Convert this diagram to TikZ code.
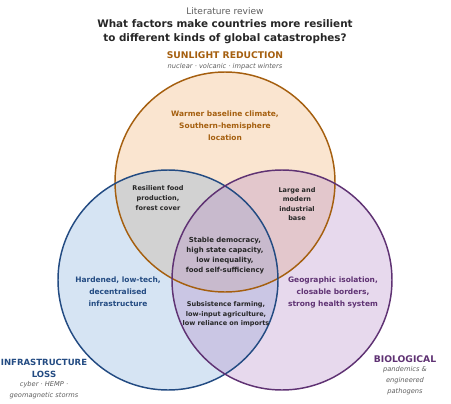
\documentclass[tikz,border=0pt]{standalone}
\usepackage{fontspec}
\setmainfont{DejaVu Sans}
\usepackage{tikz}
\usepackage{xcolor}
\usetikzlibrary{positioning}
\definecolor{sunline}{RGB}{165,95,15}
\definecolor{sunfill}{RGB}{238,170,100}
\definecolor{infraline}{RGB}{35,75,130}
\definecolor{infrafill}{RGB}{120,165,215}
\definecolor{bioline}{RGB}{95,50,115}
\definecolor{biofill}{RGB}{175,130,195}
\definecolor{subgray}{RGB}{95,95,95}
\tikzstyle{zone} = [circle, minimum size=165pt, inner sep=0pt, line width=1.1pt]
\tikzstyle{heading} = [font=\fontsize{7.8}{10.5}\selectfont\bfseries, text=black!85, align=center]
\tikzstyle{setname} = [font=\fontsize{6.9}{9.3}\selectfont\bfseries, align=center, inner sep=0pt]
\tikzstyle{setsub} = [font=\fontsize{5}{8.3}\selectfont\itshape, text=subgray, align=center, inner sep=0pt]
\tikzstyle{region} = [font=\fontsize{5.6}{9}\selectfont\bfseries, align=center, inner sep=0pt]
\tikzstyle{small} = [font=\fontsize{4.9}{7.2}\selectfont\bfseries, text=black!85, align=center, inner sep=0pt]

\begin{document}
\begin{tikzpicture}[x=0.75pt, y=-0.75pt]
    \useasboundingbox (0,0) rectangle (451,404);

            % Circles
            \node (sun) [zone, fill=sunfill, fill opacity=0.3] at (225,182) {};
            \node (infra) [zone, fill=infrafill, fill opacity=0.3] at (168,280) {};
            \node (bio) [zone, fill=biofill, fill opacity=0.3] at (282,280) {};
            \node [zone, draw=sunline] at (sun) {};
            \node [zone, draw=infraline] at (infra) {};
            \node [zone, draw=bioline] at (bio) {};

            % Title
            \node (kicker) [font=\fontsize{6.8}{8}\selectfont, text=subgray, inner sep=0pt] at (225,11) {Literature review};
            \node (title) [heading, inner sep=0pt] at (225,32) {What factors make countries more resilient\\to different kinds of global catastrophes?};

            % Set names
            \node (sunname) [setname, text=sunline] at (225,55) {SUNLIGHT REDUCTION};
            \node (sunsub) [setsub] at (225,67) {nuclear · volcanic · impact winters};
            \node (infraname) [setname, text=infraline, font=\fontsize{6.4}{9.3}\selectfont\bfseries] at (44,368.5) {INFRASTRUCTURE\\LOSS};
            \node (infrasub) [setsub, below=2.5pt of infraname] {cyber · HEMP ·\\geomagnetic storms};
            \node (bioname) [setname, text=bioline] at (405,359) {BIOLOGICAL};
            \node (biosub) [setsub, below=2.5pt of bioname] {pandemics \&\\engineered\\pathogens};

            % Regions
            \node (warm) [region, text=sunline] at (225,126) {Warmer baseline climate,\\Southern-hemisphere\\location};
            \node (hard) [region, text=infraline] at (118,292) {Hardened, low-tech,\\decentralised\\infrastructure};
            \node (geo) [region, text=bioline] at (333,292) {Geographic isolation,\\closable borders,\\strong health system};
            \node (food) [small] at (158,198) {Resilient food\\production,\\forest cover};
            \node (base) [small] at (297,204) {Large and\\modern\\industrial\\base};
            \node (core) [small, font=\fontsize{5.2}{7.5}\selectfont\bfseries] at (225,256) {Stable democracy,\\high state capacity,\\low inequality,\\food self-sufficiency};
            \node (subs) [small] at (226,314.5) {Subsistence farming,\\low-input agriculture,\\low reliance on imports};

        \end{tikzpicture}
\end{document}
